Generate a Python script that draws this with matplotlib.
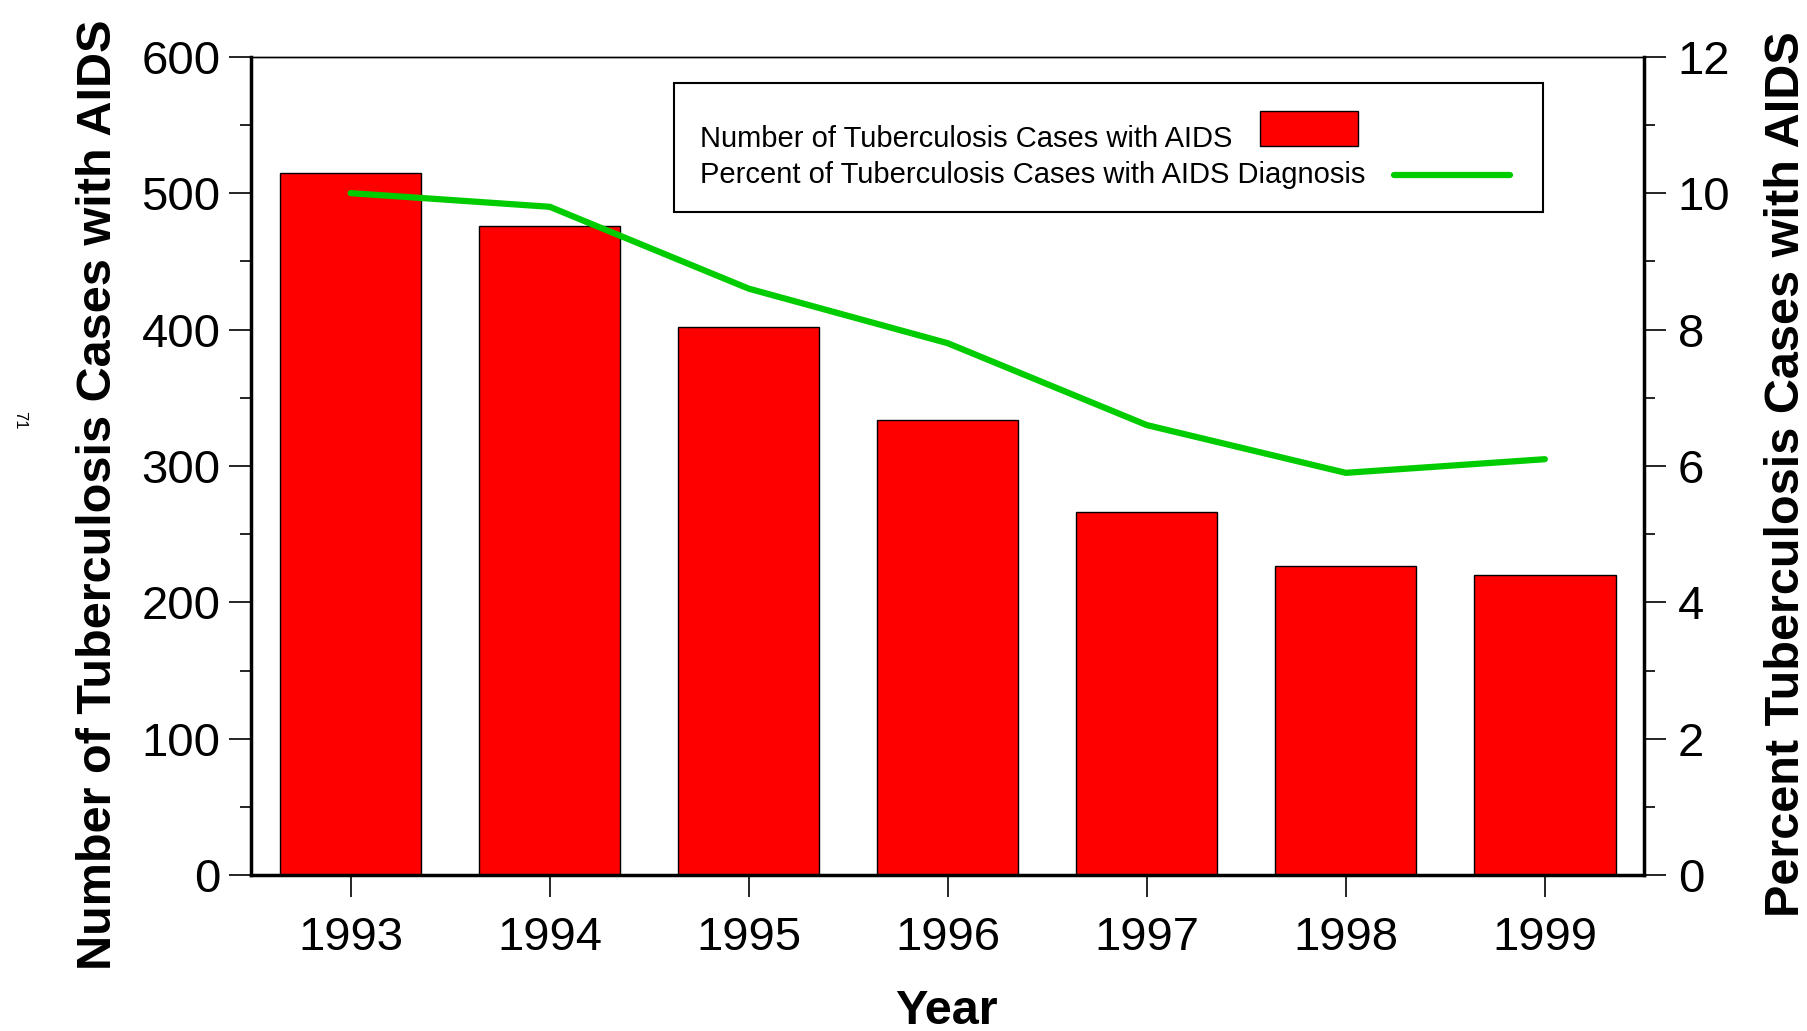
import matplotlib
matplotlib.use("Agg")
import matplotlib.pyplot as plt
from matplotlib.ticker import MultipleLocator
from matplotlib.patches import Rectangle
from matplotlib.lines import Line2D

# data
years = [1993, 1994, 1995, 1996, 1997, 1998, 1999]
tb_aids_cases = [515, 476, 402, 334, 266, 227, 220]
tb_aids_percent = [10.0, 9.8, 8.6, 7.8, 6.6, 5.9, 6.1]

label_cases = "Number of Tuberculosis Cases with AIDS"
label_percent = "Percent of Tuberculosis Cases with AIDS Diagnosis"

plt.rcParams['font.family'] = ['Liberation Sans', 'DejaVu Sans']

fig = plt.figure(figsize=(18.07, 10.31), dpi=100)
ax = fig.add_axes([0.139, 0.151, 0.771, 0.794])
ax2 = ax.twinx()

ax.bar(years, tb_aids_cases, width=0.71, color='#ff0000', edgecolor='black', linewidth=1.0)
ax2.plot(years, tb_aids_percent, color='#00cc00', linewidth=4.5, solid_capstyle='round',
         solid_joinstyle='round')

ax.set_xlim(1992.5, 1999.5)
ax.set_ylim(0, 600)
ax2.set_ylim(0, 12)

ax.set_xticks(years)
ax.set_xticklabels([str(y) for y in years])
ax.yaxis.set_major_locator(MultipleLocator(100))
ax.yaxis.set_minor_locator(MultipleLocator(50))
ax2.yaxis.set_major_locator(MultipleLocator(2))
ax2.yaxis.set_minor_locator(MultipleLocator(1))

ax.tick_params(axis='x', direction='out', length=16, width=1.2, pad=13, labelsize=34)
ax.tick_params(axis='y', which='major', direction='out', length=16, width=1.2, pad=6, labelsize=34)
ax.tick_params(axis='y', which='minor', direction='out', length=8, width=1.2)
ax2.tick_params(axis='y', which='major', direction='out', length=16, width=1.2, pad=8, labelsize=34)
ax2.tick_params(axis='y', which='minor', direction='out', length=8, width=1.2)

for a in (ax, ax2):
    a.spines['top'].set_linewidth(1.0)
    for s in ('left', 'right', 'bottom'):
        a.spines[s].set_linewidth(2.5)
ax.spines['right'].set_visible(False)
ax2.spines['left'].set_visible(False)
ax2.spines['bottom'].set_visible(False)

ax.set_ylabel(label_cases, fontsize=35, fontweight='bold')
ax.yaxis.set_label_coords(-0.0933, 0.4655)
ax2.set_ylabel("Percent Tuberculosis Cases with AIDS", fontsize=35, fontweight='bold',
               rotation=90)
ax2.yaxis.set_label_coords(1.0856, 0.49)
ax.set_xlabel("Year", fontsize=35, fontweight='bold')
ax.xaxis.set_label_coords(0.499, -0.1385)

# hand-drawn legend box: text left, key right
ax2.add_patch(Rectangle((0.3034, 0.81), 0.6241, 0.1576, transform=ax2.transAxes,
                        facecolor='white', edgecolor='black', linewidth=1.5, zorder=5))
ax2.text(0.3224, 0.8891, label_cases, transform=ax2.transAxes, fontsize=21,
         va='baseline', ha='left', zorder=6)
ax2.text(0.3224, 0.8459, label_percent, transform=ax2.transAxes, fontsize=21,
         va='baseline', ha='left', zorder=6)
ax2.add_patch(Rectangle((0.7238, 0.8908), 0.0703, 0.0426, transform=ax2.transAxes,
                        facecolor='#ff0000', edgecolor='black', linewidth=1.0, zorder=6))
ax2.add_line(Line2D([0.82, 0.9032], [0.8552, 0.8552], transform=ax2.transAxes,
                    color='#00cc00', linewidth=4.5, solid_capstyle='round', zorder=6))

# page number in the margin
fig.text(20 / 1807, 1 - 420 / 1031, "71", rotation=-90, fontsize=12,
         ha='center', va='center')

fig.savefig("out.png", dpi=100)
